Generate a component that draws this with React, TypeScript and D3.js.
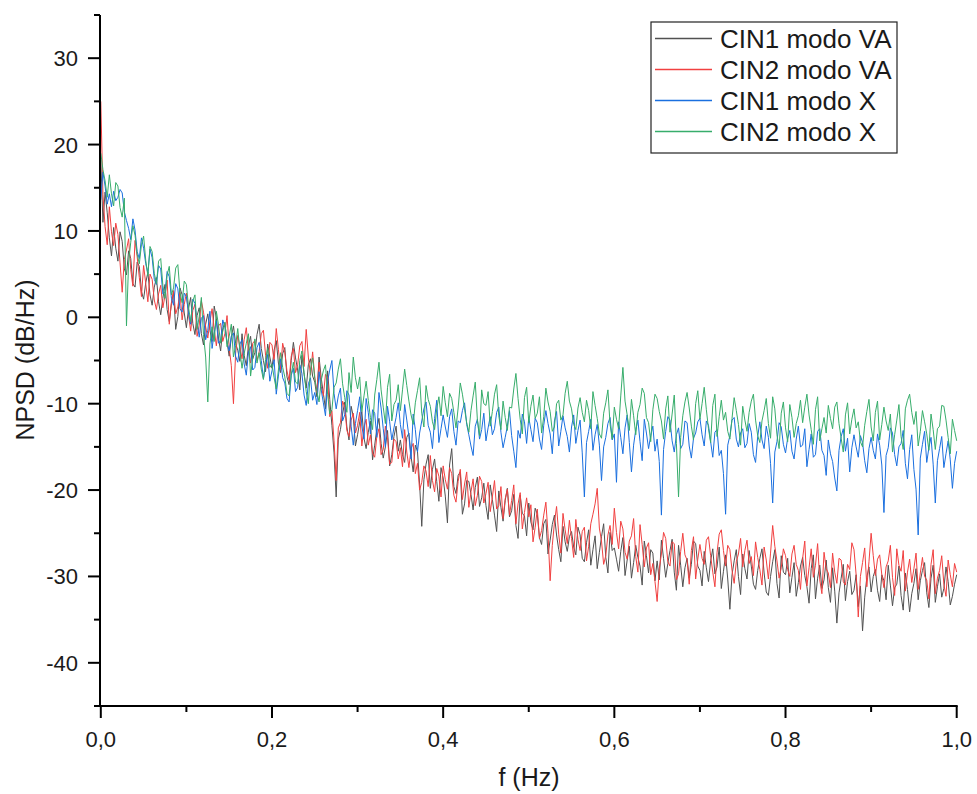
import React from "react";
import * as d3 from "d3";

const F_MAX = 1.0;

const seriesNames = ["CIN1 modo VA", "CIN2 modo VA", "CIN1 modo X", "CIN2 modo X"];
const seriesColors = ["#515151", "#F14040", "#1A6FDF", "#37AD6B"];

const cin1VA = [
  18.2, 11.0, 14.5, 12.1, 9.2, 7.1, 10.4, 8.0, 6.5, 9.9, 8.8, 5.6, 4.9, 7.7, 6.8, 3.9, 3.5, 6.4, 5.9, 3.0,
  2.1, 4.0, 5.2, 2.6, 1.4, 3.5, 4.6, 1.8, 0.3, 2.2, 3.8, 0.9, -0.5, 1.6, 2.9, -1.4, 0.1, 3.4, 2.6, 0.5,
  -1.2, 1.0, 2.3, -0.7, -2.0, 0.2, 1.1, -1.9, -3.2, -0.8, 0.4, -1.5, -2.8, 1.3, -0.1, -2.4, -3.9, -1.3, -0.6, -2.9,
  -4.5, -2.3, -1.0, -3.0, -3.8, -5.1, -1.9, -4.4, -5.6, -3.3, -2.2, -4.8, -4.1, -2.0, -0.8, -3.6, -5.0, -6.3, -3.1, -4.6,
  -5.9, -3.8, -2.7, -5.3, -6.4, -4.2, -3.5, -6.9, -7.8, -5.0, -2.9, -4.7, -6.1, -8.4, -4.4, -6.6, -8.2, -5.5, -4.8, -6.8,
  -7.5, -9.2, -4.6, -7.0, -8.8, -10.6, -6.2, -9.5, -12.5, -15.7, -20.8, -14.1, -13.0, -11.2, -9.8, -12.7, -14.2, -10.3, -11.5, -14.9,
  -13.6, -12.1, -10.9, -14.0, -15.2, -13.3, -12.0, -16.5, -14.8, -12.9, -11.7, -14.6, -16.3, -15.0, -13.1, -17.2, -15.9, -13.8, -12.6, -15.5,
  -14.2, -15.9, -16.8, -13.9, -13.4, -16.1, -17.9, -14.8, -15.5, -19.3, -24.2, -18.8, -17.0, -15.9, -19.8, -17.6, -16.4, -19.0, -21.3, -17.4,
  -18.6, -20.7, -23.8, -17.1, -15.2, -19.6, -20.4, -18.3, -17.9, -22.8, -21.6, -18.9, -19.0, -20.5, -22.3, -19.7, -18.5, -21.9, -20.9, -19.2,
  -21.8, -23.4, -19.4, -21.1, -22.9, -24.8, -20.1, -22.0, -23.6, -21.2, -19.8, -23.1, -22.4, -20.5, -24.1, -25.6, -20.6, -22.7, -23.0, -25.3,
  -21.5, -23.7, -24.6, -22.1, -22.8, -25.5, -26.3, -23.9, -23.4, -27.4, -25.8, -24.0, -22.9, -25.2, -26.9, -28.3, -24.2, -26.0, -27.1, -25.4,
  -24.8, -26.6, -27.5, -24.3, -25.2, -27.9, -28.3, -26.1, -24.6, -28.7, -26.9, -25.3, -29.1, -27.2, -25.4, -23.9, -27.8, -29.6, -24.9, -27.0,
  -26.7, -28.0, -29.4, -27.1, -25.5, -29.9, -28.1, -26.5, -30.2, -28.4, -26.4, -27.8, -28.8, -31.0, -25.9, -27.6, -29.6, -26.9, -27.3, -30.5,
  -28.2, -30.4, -25.8, -27.9, -30.1, -28.5, -27.0, -25.7, -29.5, -31.6, -26.4, -28.7, -31.2, -29.0, -27.9, -30.2, -28.6, -25.9, -26.2, -28.8,
  -29.3, -31.1, -27.1, -29.0, -30.6, -28.2, -26.8, -29.7, -28.9, -26.6, -31.4, -29.4, -27.5, -30.3, -33.8, -29.8, -28.2, -26.9, -30.0, -32.1,
  -27.4, -29.1, -30.3, -27.0, -28.8, -30.9, -31.5, -29.3, -27.9, -26.8, -29.6, -31.8, -32.2, -30.0, -28.3, -26.9, -30.8, -32.5, -27.6, -29.5,
  -29.8, -27.9, -31.9, -30.1, -28.4, -32.3, -30.7, -28.8, -27.8, -29.9, -31.2, -33.1, -29.1, -27.5, -32.6, -30.2, -28.7, -31.4, -30.4, -28.1,
  -31.3, -33.0, -29.0, -31.7, -35.4, -31.9, -30.2, -28.6, -32.8, -30.6, -29.4, -32.1, -31.6, -29.8, -33.5, -31.1, -36.3, -32.4, -30.1, -28.9,
  -31.8, -30.0, -29.2, -31.6, -32.9, -29.8, -30.5, -32.7, -28.7, -31.0, -33.4, -31.3, -30.9, -28.8, -32.2, -33.9, -29.6, -31.5, -34.1, -32.0,
  -30.8, -29.1, -32.7, -30.5, -29.3, -28.4, -31.9, -33.6, -30.2, -28.7, -33.0, -31.2, -29.7, -32.4, -31.4, -28.9, -30.6, -33.3, -32.3, -30.9,
  -29.8,
];

const cin2VA = [
  25.0, 14.2, 10.5, 8.4, 12.8, 9.9, 8.3, 10.9, 9.6, 6.3, 2.9, 6.7, 7.8, 9.1, 5.5, 3.6, 8.9, 7.0, 4.6, 2.4,
  6.0, 3.9, 1.8, 5.0, 4.4, 2.0, 0.9, 2.7, 3.7, 1.1, 2.5, 4.3, -0.8, 1.7, 3.1, 0.4, 1.2, 2.9, -0.3, 1.5,
  2.8, 0.3, -1.6, 0.8, 1.5, -2.2, -0.9, 1.9, 0.6, -1.1, -2.4, -0.5, 1.0, -1.4, -3.3, -1.0, -0.7, -2.8, -1.9, 0.2,
  -3.5, -5.6, -10.0, -4.2, -2.1, -3.4, -4.8, -2.6, -1.2, -3.9, -5.3, -3.0, -2.7, -5.0, -4.0, -1.9, -1.5, -4.4, -5.9, -2.9,
  -3.2, -5.1, -1.3, -3.7, -6.0, -3.0, -4.1, -6.2, -7.3, -4.5, -3.6, -6.4, -5.5, -3.3, -2.8, -5.7, -1.4, -4.6, -6.7, -4.0,
  -6.9, -8.7, -5.2, -8.0, -9.1, -6.6, -7.0, -11.5, -10.8, -14.3, -18.9, -12.8, -12.2, -9.7, -10.4, -13.1, -13.8, -11.9, -11.1, -13.4,
  -12.5, -11.0, -14.9, -12.7, -11.8, -14.8, -13.6, -15.7, -16.2, -13.8, -12.9, -15.9, -15.3, -12.6, -13.9, -17.0, -16.8, -14.1, -14.4, -16.4,
  -15.1, -17.3, -13.0, -15.6, -17.4, -15.2, -14.6, -18.1, -16.9, -20.0, -19.1, -17.2, -17.8, -19.6, -16.0, -18.9, -20.2, -17.5, -18.4, -20.8,
  -17.2, -18.8, -19.9, -17.4, -18.1, -20.6, -21.4, -19.0, -17.6, -21.1, -19.3, -17.9, -22.0, -20.2, -18.7, -21.8, -20.6, -18.4, -19.0, -21.5,
  -20.4, -19.1, -22.5, -20.8, -18.9, -22.2, -21.8, -19.6, -23.3, -21.0, -19.9, -22.9, -21.2, -19.4, -23.9, -21.6, -20.3, -24.5, -22.6, -20.9,
  -23.1, -21.7, -26.0, -24.3, -22.2, -25.6, -24.7, -22.9, -21.4, -25.0, -30.5, -26.4, -23.8, -21.9, -25.1, -27.3, -22.7, -24.6, -26.2, -23.5,
  -25.6, -27.8, -23.4, -25.7, -27.0, -24.8, -24.3, -28.2, -26.5, -23.9, -22.8, -21.6, -19.8, -24.4, -25.9, -28.6, -27.6, -25.2, -24.1, -26.3,
  -22.1, -24.9, -26.8, -23.6, -24.5, -27.2, -28.0, -25.9, -25.3, -23.3, -27.7, -29.5, -24.0, -26.3, -28.9, -26.7, -26.1, -29.8, -28.5, -30.6,
  -32.9, -29.1, -27.4, -24.9, -25.6, -28.3, -28.8, -26.0, -26.2, -30.4, -29.7, -27.1, -25.0, -27.5, -28.1, -30.9, -27.0, -25.4, -30.3, -28.0,
  -26.3, -27.9, -28.6, -25.8, -25.4, -27.6, -29.5, -31.2, -27.2, -25.1, -24.6, -27.0, -28.8, -26.4, -26.9, -29.3, -30.8, -28.3, -27.4, -25.6,
  -28.9, -27.0, -25.8, -28.5, -27.7, -29.9, -26.0, -27.8, -29.2, -31.0, -26.6, -28.1, -30.3, -27.3, -24.1, -26.5, -28.2, -30.2, -29.0, -26.8,
  -27.6, -29.2, -30.0, -27.4, -26.4, -28.6, -29.3, -31.5, -27.9, -25.9, -31.1, -29.0, -26.8, -30.1, -28.7, -26.2, -30.4, -32.0, -27.2, -29.1,
  -29.6, -31.3, -27.3, -29.5, -30.8, -27.9, -28.1, -30.6, -31.0, -28.6, -29.2, -26.1, -26.9, -29.8, -34.7, -30.0, -28.4, -26.7, -31.2, -28.3,
  -25.0, -27.6, -29.9, -28.0, -27.5, -29.8, -31.3, -28.9, -28.2, -26.4, -30.1, -32.2, -26.8, -28.7, -29.4, -27.0, -31.7, -29.5, -28.0, -30.7,
  -29.1, -27.3, -31.5, -29.6, -27.8, -30.0, -30.4, -32.6, -28.6, -26.9, -32.0, -30.2, -29.3, -27.6, -30.9, -32.3, -28.1, -29.8, -31.2, -28.5,
  -29.5,
];

const cin1X = [
  13.6, 16.8, 15.2, 13.1, 14.3, 12.8, 14.6, 13.5, 13.9, 14.8, 14.4, 12.2, 11.2, 10.3, 9.0, 11.4, 10.1, 7.6, 6.8, 9.2,
  8.0, 6.2, 5.1, 7.9, 6.9, 4.4, 3.8, 6.0, 5.6, 2.7, 2.9, 5.3, 4.7, 2.2, 1.4, 3.9, 3.3, 1.0, 0.6, 2.8,
  2.4, 0.5, -0.8, 2.1, 1.6, -0.6, -2.3, -0.1, 0.2, -2.6, -1.5, 0.7, -3.6, -1.8, -0.4, -3.0, -2.7, -0.3, -1.2, -2.9,
  -3.9, -2.2, -1.8, -4.5, -5.2, -3.1, -2.6, -5.4, -6.7, -4.0, -3.4, -6.1, -5.8, -3.5, -2.9, -5.0, -7.1, -5.6, -4.3, -7.4,
  -6.2, -4.9, -8.9, -6.8, -4.8, -7.0, -7.6, -9.4, -9.8, -6.7, -5.9, -8.6, -8.1, -5.5, -6.5, -9.0, -10.2, -7.7, -7.0, -9.6,
  -8.7, -10.1, -6.3, -8.4, -9.9, -11.4, -7.4, -6.1, -5.0, -8.8, -10.6, -9.1, -8.2, -12.0, -11.3, -8.5, -9.0, -12.6, -14.8, -12.3,
  -10.8, -9.2, -12.6, -14.1, -9.4, -11.0, -13.5, -10.7, -11.1, -13.9, -8.7, -10.5, -12.9, -15.0, -10.3, -12.1, -14.2, -12.8, -11.6, -9.9,
  -12.4, -14.0, -10.1, -11.9, -13.8, -16.4, -11.2, -13.0, -15.6, -13.4, -12.0, -10.6, -9.8, -12.5, -13.3, -15.2, -11.7, -9.6, -14.5, -12.9,
  -11.3, -12.7, -13.9, -11.5, -10.6, -13.2, -14.8, -12.0, -12.2, -10.8, -9.9, -12.4, -13.6, -14.9, -16.0, -12.6, -11.8, -14.1, -13.0, -11.1,
  -14.3, -12.8, -11.5, -13.6, -12.9, -11.0, -10.4, -13.3, -15.1, -13.9, -12.6, -10.8, -13.7, -15.5, -17.4, -13.1, -14.0, -11.2, -12.1, -14.6,
  -11.6, -13.0, -14.4, -11.7, -12.2, -14.1, -15.3, -12.5, -10.8, -12.3, -13.5, -15.8, -12.0, -10.9, -14.9, -13.2, -11.4, -12.8, -13.8, -15.6,
  -12.7, -11.3, -14.6, -13.1, -11.9, -15.7, -20.8, -14.5, -13.2, -11.8, -15.4, -13.6, -12.4, -14.8, -18.9, -15.0, -13.9, -12.3, -11.6, -14.2,
  -13.5, -19.1, -12.1, -13.9, -15.8, -12.8, -11.3, -14.5, -17.9, -14.8, -13.0, -11.9, -14.4, -16.6, -11.8, -13.4, -15.2, -13.7, -12.6, -15.5,
  -14.1, -16.7, -22.9, -15.3, -13.2, -11.5, -11.9, -14.3, -15.6, -13.6, -12.8, -15.2, -14.7, -12.0, -12.2, -14.9, -16.3, -14.0, -13.4, -12.1,
  -11.7, -13.6, -14.9, -12.0, -12.5, -14.4, -16.2, -13.3, -13.0, -16.0, -15.4, -18.1, -22.8, -14.8, -13.7, -11.9, -11.6, -14.1, -15.0, -13.4,
  -12.9, -15.1, -14.6, -12.3, -13.3, -15.9, -16.8, -13.8, -12.1, -14.2, -15.2, -12.6, -13.9, -16.9, -21.5, -15.6, -14.4, -12.2, -12.7, -14.7,
  -15.7, -14.0, -13.1, -15.5, -16.4, -14.1, -12.6, -15.0, -14.8, -12.9, -17.3, -15.3, -13.5, -16.2, -15.9, -13.2, -12.9, -15.4, -16.0, -18.3,
  -14.2, -15.8, -16.7, -18.6, -20.1, -15.4, -13.8, -12.9, -15.5, -14.0, -17.9, -15.1, -13.6, -15.0, -16.2, -13.7, -14.5, -16.6, -18.0, -15.2,
  -13.9, -15.4, -16.4, -13.5, -14.8, -17.1, -22.6, -16.0, -15.1, -12.8, -13.4, -15.9, -17.2, -15.0, -14.6, -13.1, -16.9, -18.7, -15.3, -13.6,
  -17.6, -19.9, -25.2, -16.3, -14.7, -13.2, -16.8, -15.1, -13.9, -17.0, -21.5, -16.6, -15.2, -13.8, -17.4, -15.8, -14.3, -16.5, -19.8, -16.9,
  -15.5,
];

const cin2X = [
  19.0, 17.1, 15.8, 13.9, 16.5, 14.3, 12.9, 15.6, 15.2, 12.7, 11.6, 13.8, -1.0, 6.4, 8.7, 10.6, 9.5, 7.3, 6.2, 8.4,
  9.4, 6.6, 4.8, 8.2, 7.6, 5.1, 3.9, 6.5, 6.8, 3.7, 2.2, 4.9, 5.9, 2.6, 3.4, 5.7, 6.1, 2.9, 1.7, 4.2,
  3.8, 1.2, -0.5, 1.9, 2.6, -1.4, 0.1, 2.3, -2.0, -4.6, -9.8, -3.1, -1.1, -2.8, 0.7, -0.9, -3.0, -1.6, -0.6, -3.4,
  -2.2, -0.8, -4.6, -3.3, -1.3, -3.9, -5.9, -4.2, -3.0, -1.9, -6.8, -4.7, -2.5, -5.3, -4.1, -6.0, -7.2, -4.9, -3.6, -5.8,
  -5.4, -7.0, -8.3, -6.1, -4.1, -5.8, -6.9, -8.8, -9.1, -6.6, -5.2, -7.5, -7.7, -5.0, -3.9, -6.4, -8.6, -10.0, -6.0, -4.7,
  -7.1, -8.6, -9.8, -7.3, -6.2, -5.5, -8.9, -11.2, -10.7, -8.1, -7.6, -6.0, -4.8, -7.7, -9.3, -11.0, -6.4, -8.7, -4.6, -7.0,
  -8.3, -6.9, -10.9, -9.1, -7.4, -9.6, -11.6, -13.0, -9.0, -7.2, -5.2, -8.4, -10.4, -12.3, -8.1, -6.6, -12.0, -10.1, -9.6, -7.8,
  -10.8, -8.4, -6.0, -7.9, -9.7, -11.3, -12.4, -9.9, -8.5, -7.0, -11.1, -12.7, -7.9, -9.5, -10.3, -12.1, -13.0, -10.6, -9.2, -11.4,
  -8.0, -9.9, -11.5, -8.8, -9.4, -11.0, -12.8, -10.5, -7.6, -8.9, -10.6, -12.2, -13.3, -10.8, -9.1, -7.5, -11.9, -13.7, -8.4, -10.0,
  -10.2, -8.6, -12.6, -10.9, -8.9, -7.8, -11.4, -13.0, -9.7, -11.6, -13.1, -10.4, -10.5, -8.3, -6.5, -9.4, -11.8, -13.5, -9.3, -8.1,
  -12.2, -10.3, -9.0, -11.7, -11.1, -9.2, -13.4, -11.5, -8.2, -9.8, -10.9, -13.2, -12.7, -10.0, -9.6, -11.9, -11.3, -8.8, -7.4, -9.7,
  -10.6, -12.4, -13.0, -10.5, -9.3, -11.0, -12.1, -9.6, -10.8, -12.9, -8.6, -10.2, -11.7, -13.5, -14.0, -11.1, -9.9, -8.4, -12.4, -14.1,
  -10.4, -11.8, -12.9, -9.1, -5.8, -9.7, -11.3, -13.1, -9.5, -11.4, -13.6, -11.0, -10.1, -8.2, -8.8, -11.6, -12.2, -14.4, -10.7, -8.9,
  -9.4, -10.9, -12.0, -14.1, -10.6, -9.1, -13.3, -11.2, -9.0, -14.6, -20.8, -13.9, -11.4, -9.8, -8.7, -10.5, -12.6, -14.2, -10.0, -8.5,
  -11.8, -10.0, -8.1, -10.7, -12.9, -14.5, -10.2, -8.9, -13.8, -11.5, -9.6, -11.9, -11.0, -13.2, -14.1, -11.7, -9.3, -10.8, -12.4, -14.8,
  -10.3, -11.9, -13.2, -11.0, -9.7, -8.9, -11.9, -13.7, -14.5, -12.0, -10.8, -9.4, -12.3, -14.0, -9.2, -10.6, -13.6, -15.2, -11.1, -9.8,
  -12.8, -14.4, -10.1, -11.6, -13.9, -12.3, -11.4, -9.6, -12.2, -10.4, -8.9, -11.3, -13.0, -14.7, -10.7, -9.2, -14.3, -12.9, -11.6, -13.4,
  -10.2, -11.7, -12.9, -10.4, -9.8, -12.3, -14.0, -15.6, -11.3, -9.9, -13.5, -11.8, -10.6, -12.8, -12.1, -14.4, -15.0, -12.5, -10.9, -9.5,
  -12.7, -14.3, -11.0, -9.7, -14.2, -12.4, -10.4, -12.0, -13.1, -11.2, -15.6, -13.6, -11.9, -10.1, -13.8, -15.3, -10.6, -9.6, -8.9, -11.0,
  -12.4, -10.9, -14.9, -13.2, -10.8, -12.1, -13.5, -15.4, -11.2, -13.0, -15.3, -12.9, -12.6, -10.2, -10.3, -11.9, -13.9, -15.8, -11.8, -13.1,
  -14.3,
];

const yMajorTicks = [-40, -30, -20, -10, 0, 10, 20, 30];
const yMinorTicks = [-45, -35, -25, -15, -5, 5, 15, 25, 35];
const xMajorTicks = [0, 0.2, 0.4, 0.6, 0.8, 1.0];
const xMinorTicks = [0.1, 0.3, 0.5, 0.7, 0.9];

const FONT = "'Liberation Sans', Arial, Helvetica, sans-serif";

export default function App() {
  const W = 977;
  const H = 794;
  const left = 100;
  const right = 956.7;
  const top = 15;
  const bottom = 706;

  const x = d3.scaleLinear().domain([0, 1]).range([left + 0.8, right]);
  const y = d3.scaleLinear().domain([-45, 35]).range([bottom, top]);

  const allSeries = [cin1VA, cin2VA, cin1X, cin2X];
  const makeLine = (n: number) =>
    d3
      .line<number>()
      .x((_, i) => x((i / (n - 1)) * F_MAX))
      .y((d) => y(d));

  const fmt = (v: number) => v.toFixed(1).replace(".", ",");

  const legendX = 651;
  const legendY = 22;
  const legendW = 246;
  const legendH = 131;
  const rowH = 31;

  return (
    <svg
      width={W}
      height={H}
      style={{ position: "absolute", left: 0, top: 0, display: "block", background: "#fff" }}
    >
      <rect x={0} y={0} width={W} height={H} fill="#fff" />
      <defs>
        <clipPath id="plotClip">
          <rect x={left} y={top} width={right - left + 2} height={bottom - top} />
        </clipPath>
      </defs>

      <g clipPath="url(#plotClip)">
        {allSeries.map((s, k) => (
          <path
            key={k}
            d={makeLine(s.length)(s) || ""}
            fill="none"
            stroke={seriesColors[k]}
            strokeWidth={1.0}
            strokeLinejoin="round"
          />
        ))}
      </g>

      <g stroke="#000" strokeWidth={2} fill="none">
        <line x1={left} y1={top} x2={left} y2={bottom + 1} />
        <line x1={left - 1} y1={bottom} x2={right + 1} y2={bottom} />
        {yMajorTicks.map((t) => (
          <line key={"ym" + t} x1={left - 12} x2={left} y1={y(t)} y2={y(t)} />
        ))}
        {yMinorTicks.map((t) => (
          <line key={"yn" + t} x1={left - 6} x2={left} y1={y(t)} y2={y(t)} />
        ))}
        {xMajorTicks.map((t) => (
          <line key={"xm" + t} x1={x(t)} x2={x(t)} y1={bottom} y2={bottom + 12} />
        ))}
        {xMinorTicks.map((t) => (
          <line key={"xn" + t} x1={x(t)} x2={x(t)} y1={bottom} y2={bottom + 6} />
        ))}
      </g>

      <g fontFamily={FONT} fontSize={22} fill="#1a1a1a">
        {yMajorTicks.map((t) => (
          <text key={"yl" + t} x={78} y={y(t) + 8} textAnchor="end">
            {t}
          </text>
        ))}
        {xMajorTicks.map((t) => (
          <text key={"xl" + t} x={x(t)} y={747} textAnchor="middle">
            {fmt(t)}
          </text>
        ))}
      </g>

      <text x={529} y={786} textAnchor="middle" fontFamily={FONT} fontSize={25} fill="#1a1a1a">
        f (Hz)
      </text>
      <text
        transform="translate(34,360) rotate(-90)"
        textAnchor="middle"
        fontFamily={FONT}
        fontSize={25}
        fill="#1a1a1a"
      >
        NPSD (dB/Hz)
      </text>

      <g>
        <rect
          x={legendX}
          y={legendY}
          width={legendW}
          height={legendH}
          fill="#fff"
          stroke="#222"
          strokeWidth={1.2}
        />
        {seriesNames.map((name, i) => (
          <g key={name}>
            <line
              x1={655}
              x2={712}
              y1={legendY + 16.5 + i * rowH}
              y2={legendY + 16.5 + i * rowH}
              stroke={seriesColors[i]}
              strokeWidth={1.4}
            />
            <text
              x={720}
              y={legendY + 25.5 + i * rowH}
              fontFamily={FONT}
              fontSize={26}
              fill="#1a1a1a"
            >
              {name}
            </text>
          </g>
        ))}
      </g>
    </svg>
  );
}
